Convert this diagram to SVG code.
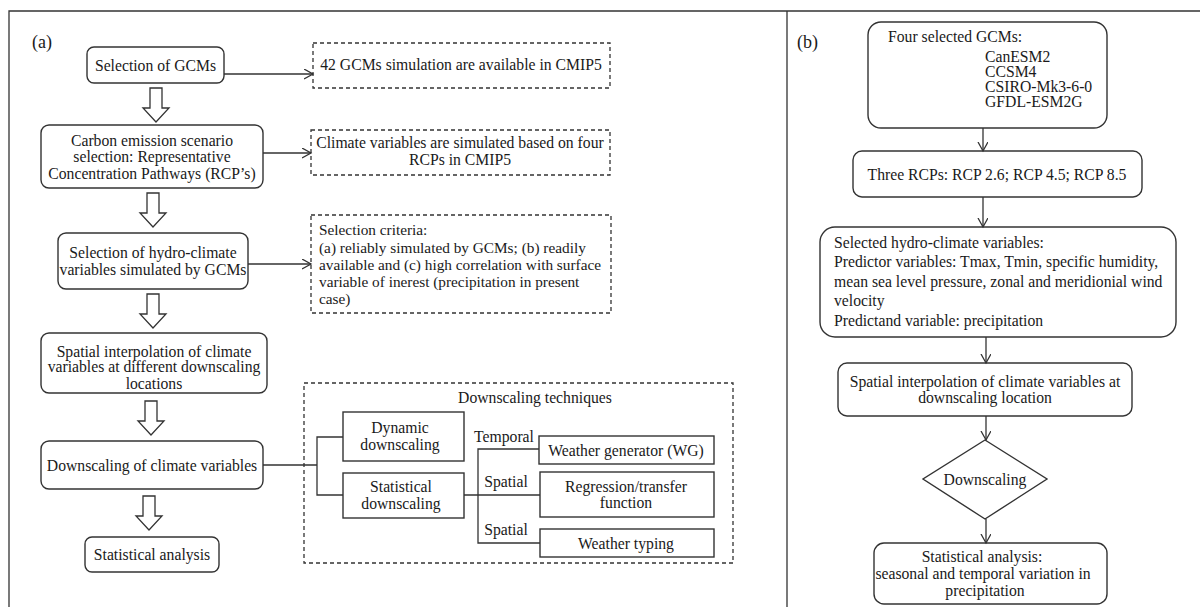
<svg xmlns="http://www.w3.org/2000/svg" width="1200" height="607" viewBox="0 0 1200 607" font-family="'Liberation Serif', 'Times New Roman', Times, 'DejaVu Serif', serif">
<style>
text{font-family:"Liberation Serif","Times New Roman",Times,"DejaVu Serif",serif;font-size:15.7px;fill:#1a1a1a}
.c{text-anchor:middle}
.box{fill:#fff;stroke:#333;stroke-width:1.4}
.dash{fill:#fff;stroke:#333;stroke-width:1.3;stroke-dasharray:4 3}
.dashn{fill:none;stroke:#333;stroke-width:1.3;stroke-dasharray:4 3}
.ln{fill:none;stroke:#333;stroke-width:1.3}
.hol{fill:#fff;stroke:#333;stroke-width:1.3}
.sm{font-size:15.3px}
.lab{font-size:18px}
</style>
<defs>
<marker id="ah" markerUnits="userSpaceOnUse" markerWidth="12" markerHeight="12" refX="9" refY="5" orient="auto">
<path d="M0,0 L9,5 L0,10" fill="none" stroke="#333" stroke-width="1.3"/>
</marker>
<path id="hollow" d="M-6,0 H6 V20 H13 L0,34 L-13,20 H-6 Z"/>
</defs>
<rect width="1200" height="607" fill="#fff"/>
<path class="ln" d="M9,607 V11 H1200 M787,11 V607" stroke-width="1.5"/>
<text class="lab" x="32" y="48">(a)</text>
<text class="lab" x="797" y="48">(b)</text>

<g id="a-gcm">
<rect class="box" x="87" y="47" width="137" height="36" rx="7"/>
<text class="c" x="155.5" y="71">Selection of GCMs</text>
</g>
<g id="a-cmip5">
<rect class="dash" x="313" y="43" width="297" height="45"/>
<text class="c" x="461" y="70">42 GCMs simulation are available in CMIP5</text>
</g>
<g id="a-rcp">
<rect class="box" x="41" y="125" width="222" height="63" rx="8"/>
<text class="c" x="152" y="146">Carbon emission scenario</text>
<text class="c" x="152" y="162">selection: Representative</text>
<text class="c" x="152" y="179">Concentration Pathways (RCP’s)</text>
</g>
<g id="a-rcpnote">
<rect class="dash" x="311" y="130" width="299" height="45"/>
<text class="c" x="460" y="148">Climate variables are simulated based on four</text>
<text class="c" x="460" y="165">RCPs in CMIP5</text>
</g>
<g id="a-hydro">
<rect class="box" x="58" y="233" width="190" height="56" rx="8"/>
<text class="c" x="153" y="258">Selection of hydro-climate</text>
<text class="c" x="153" y="275">variables simulated by GCMs</text>
</g>
<g id="a-criteria">
<rect class="dash" x="311" y="215" width="300" height="98"/>
<text class="sm" x="319" y="235">Selection criteria:</text>
<text class="sm" x="319" y="253">(a) reliably simulated by GCMs; (b) readily</text>
<text class="sm" x="319" y="270">available and (c) high correlation with surface</text>
<text class="sm" x="319" y="287">variable of inerest (precipitation in present</text>
<text class="sm" x="319" y="304">case)</text>
</g>
<g id="a-interp">
<rect class="box" x="41" y="333" width="226" height="60" rx="8"/>
<text class="c" x="154" y="357">Spatial interpolation of climate</text>
<text class="c" x="154" y="372">variables at different downscaling</text>
<text class="c" x="154" y="389">locations</text>
</g>
<g id="a-down">
<rect class="box" x="41" y="441" width="222" height="48" rx="8"/>
<text class="c" x="152" y="471">Downscaling of climate variables</text>
</g>
<g id="a-stat">
<rect class="box" x="85" y="537" width="134" height="35" rx="7"/>
<text class="c" x="152" y="560">Statistical analysis</text>
</g>
<g id="a-techniques">
<rect class="dashn" x="304" y="383" width="429" height="180"/>
<text class="c" x="535" y="403">Downscaling techniques</text>
</g>
<g id="a-dynamic">
<rect class="box" x="343" y="412" width="121" height="49"/>
<text class="c" x="400" y="433">Dynamic</text>
<text class="c" x="400" y="450">downscaling</text>
</g>
<g id="a-statdown">
<rect class="box" x="343" y="473" width="121" height="45"/>
<text class="c" x="401" y="492">Statistical</text>
<text class="c" x="401" y="509">downscaling</text>
</g>
<g id="a-labels">
<text class="c" x="504" y="442">Temporal</text>
<text class="c" x="506" y="487">Spatial</text>
<text class="c" x="506" y="535">Spatial</text>
</g>
<g id="a-wg">
<rect class="box" x="539" y="436" width="175" height="28"/>
<text class="c" x="626" y="456">Weather generator (WG)</text>
</g>
<g id="a-reg">
<rect class="box" x="540" y="472" width="174" height="45"/>
<text class="c" x="626" y="492">Regression/transfer</text>
<text class="c" x="626" y="508">function</text>
</g>
<g id="a-typing">
<rect class="box" x="540" y="529" width="174" height="28"/>
<text class="c" x="626" y="549">Weather typing</text>
</g>

<g id="b-gcms">
<rect class="box" x="868" y="22" width="239" height="106" rx="13"/>
<text x="888" y="42">Four selected GCMs:</text>
<text x="985" y="62">CanESM2</text>
<text x="985" y="77">CCSM4</text>
<text x="985" y="92">CSIRO-Mk3-6-0</text>
<text x="985" y="107">GFDL-ESM2G</text>
</g>
<g id="b-rcps">
<rect class="box" x="853" y="151" width="289" height="46" rx="9"/>
<text class="c" x="997" y="180">Three RCPs: RCP 2.6; RCP 4.5; RCP 8.5</text>
</g>
<g id="b-hydro">
<rect class="box" x="820" y="227" width="356" height="110" rx="15"/>
<text x="834" y="248">Selected hydro-climate variables:</text>
<text x="834" y="267">Predictor variables: Tmax, Tmin, specific humidity,</text>
<text x="834" y="287">mean sea level pressure, zonal and meridionial wind</text>
<text x="834" y="306">velocity</text>
<text x="834" y="326">Predictand variable: precipitation</text>
</g>
<g id="b-interp">
<rect class="box" x="838" y="363" width="294" height="53" rx="9"/>
<text class="c" x="985" y="387">Spatial interpolation of climate variables at</text>
<text class="c" x="985" y="403">downscaling location</text>
</g>
<g id="b-down">
<path class="box" d="M985,440 L1047,479 L985,519 L923,479 Z"/>
<text class="c" x="985" y="485">Downscaling</text>
</g>
<g id="b-stat">
<rect class="box" x="874" y="543" width="233" height="61" rx="10"/>
<text class="c" x="982" y="562">Statistical analysis:</text>
<text class="c" x="983" y="579">seasonal and temporal variation in</text>
<text class="c" x="985" y="596">precipitation</text>
</g>

<g id="connectors">
<path class="ln" d="M224,74 H313" marker-end="url(#ah)"/>
<path class="ln" d="M263,153 H311" marker-end="url(#ah)"/>
<path class="ln" d="M248,264 H311" marker-end="url(#ah)"/>
<use href="#hollow" class="hol" x="156" y="88"/>
<use href="#hollow" class="hol" x="153" y="193"/>
<use href="#hollow" class="hol" x="153" y="294"/>
<use href="#hollow" class="hol" x="151" y="401"/>
<use href="#hollow" class="hol" x="149" y="496"/>
<path class="ln" d="M263,465 H317 M343,437 H317 V495 H343"/>
<path class="ln" d="M464,495 H540 M539,449 H478 V543 H540"/>
<path class="ln" d="M983,128 V151" marker-end="url(#ah)"/>
<path class="ln" d="M983,197 V227" marker-end="url(#ah)"/>
<path class="ln" d="M986,337 V363" marker-end="url(#ah)"/>
<path class="ln" d="M986,416 V440" marker-end="url(#ah)"/>
<path class="ln" d="M986,519 V543" marker-end="url(#ah)"/>
</g>
</svg>
